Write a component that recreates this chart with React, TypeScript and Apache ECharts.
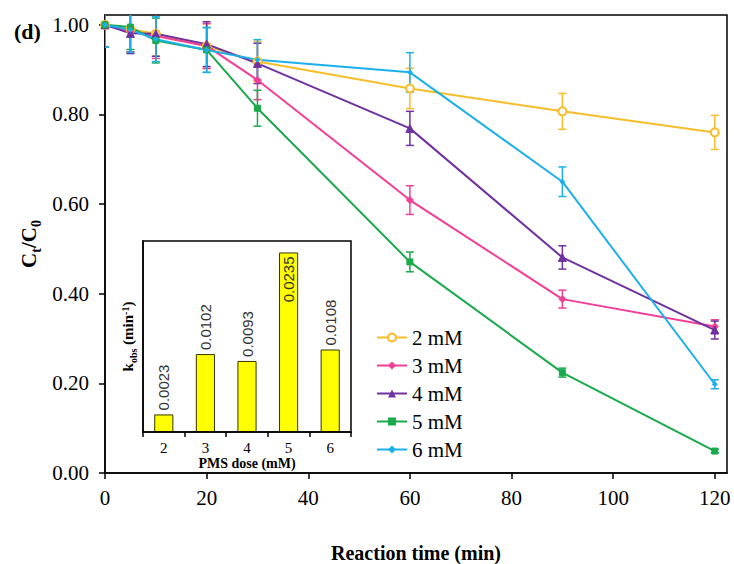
import React, { useEffect, useRef } from "react";
import * as echarts from "echarts";

const times = [0, 5, 10, 20, 30, 60, 90, 120];
const seriesNames = ["2 mM", "3 mM", "4 mM", "5 mM", "6 mM"];
const c2 = [1.0, 0.99, 0.98, 0.952, 0.918, 0.858, 0.807, 0.76];
const c3 = [1.0, 0.985, 0.975, 0.953, 0.877, 0.609, 0.388, 0.327];
const c4 = [1.0, 0.981, 0.98, 0.957, 0.914, 0.769, 0.481, 0.319];
const c5 = [1.0, 0.995, 0.965, 0.944, 0.814, 0.471, 0.224, 0.049];
const c6 = [1.0, 0.989, 0.968, 0.944, 0.922, 0.894, 0.65, 0.198];
const e2 = [0.05, 0.05, 0.05, 0.05, 0.045, 0.045, 0.04, 0.038];
const e3 = [0.05, 0.045, 0.05, 0.05, 0.044, 0.032, 0.02, 0.015];
const e4 = [0.05, 0.045, 0.05, 0.05, 0.045, 0.038, 0.026, 0.02];
const e5 = [0.05, 0.05, 0.05, 0.05, 0.04, 0.022, 0.01, 0.004];
const e6 = [0.05, 0.05, 0.05, 0.05, 0.045, 0.044, 0.033, 0.01];
const xTicks = [0, 20, 40, 60, 80, 100, 120];
const yTicks = [0, 0.2, 0.4, 0.6, 0.8, 1.0];

const doseCats = ["2", "3", "4", "5", "6"];
const kobs = [0.0023, 0.0102, 0.0093, 0.0235, 0.0108];

const SERIF = "Liberation Serif";
const SANS = "Liberation Sans";

const colors = ["#F7BD2A", "#F23E97", "#6F32A0", "#1AAA4C", "#1CB0EA"];
const symbols = ["emptyCircle", "diamond", "triangle", "rect", "diamond"];
const symbolSizes = [8, 7, 8, 6, 5];
const values = [c2, c3, c4, c5, c6];
const errs = [e2, e3, e4, e5, e6];

export default function App() {
  const ref = useRef<HTMLDivElement>(null);
  useEffect(() => {
    document.body.style.margin = "0";
    if (!ref.current) return;
    const chart = echarts.init(ref.current, undefined, { renderer: "svg" });

    const lineSeries: any[] = seriesNames.map((name, i) => ({
      name,
      type: "line",
      xAxisIndex: 0,
      yAxisIndex: 0,
      data: times.map((t, j) => [t, values[i][j]]),
      symbol: symbols[i],
      symbolSize: symbolSizes[i],
      showSymbol: true,
      lineStyle: { color: colors[i], width: 2 },
      itemStyle: { color: colors[i], borderColor: colors[i] },
      z: 3,
      clip: true,
    }));

    const errSeries: any[] = seriesNames.map((name, i) => ({
      name: name + " err",
      type: "custom",
      xAxisIndex: 0,
      yAxisIndex: 0,
      clip: true,
      z: 2,
      encode: { x: 0, y: 1 },
      data: times.map((t, j) => [t, values[i][j], errs[i][j]]),
      renderItem: (params: any, api: any) => {
        const x = api.value(0);
        const y = api.value(1);
        const e = api.value(2);
        const top = api.coord([x, y + e]);
        const bot = api.coord([x, y - e]);
        const hw = 4;
        const style = { stroke: colors[i], lineWidth: 1.5 };
        return {
          type: "group",
          children: [
            { type: "line", shape: { x1: top[0], y1: top[1], x2: bot[0], y2: bot[1] }, style },
            { type: "line", shape: { x1: top[0] - hw, y1: top[1], x2: top[0] + hw, y2: top[1] }, style },
            { type: "line", shape: { x1: bot[0] - hw, y1: bot[1], x2: bot[0] + hw, y2: bot[1] }, style },
          ],
        };
      },
    }));

    const barSeries: any = {
      name: "kobs",
      type: "bar",
      xAxisIndex: 1,
      yAxisIndex: 1,
      barWidth: "46%",
      itemStyle: { color: "#FFFF00", borderColor: "#333300", borderWidth: 1 },
      z: 5,
      data: kobs.map((v, i) => {
        const inside = i === 3;
        return {
          value: v,
          label: {
            show: true,
            position: inside ? "insideTop" : "top",
            rotate: 90,
            align: inside ? "right" : "left",
            verticalAlign: "middle",
            distance: 4,
            formatter: v.toFixed(4),
            fontFamily: SANS,
            fontSize: 15,
            color: "#333",
          },
        };
      }),
    };

    const option: any = {
      animation: false,
      backgroundColor: "#fff",
      title: {
        text: "(d)",
        left: 9,
        top: 15,
        textStyle: { fontFamily: SERIF, fontSize: 22, fontWeight: "bold", color: "#000" },
      },
      legend: {
        data: seriesNames,
        orient: "vertical",
        left: 376,
        top: 327,
        padding: 0,
        itemWidth: 30,
        itemHeight: 10,
        itemGap: 7,
        textStyle: { fontFamily: SERIF, fontSize: 21, color: "#000" },
      },
      grid: [
        {
          left: 105,
          right: 7,
          top: 15,
          bottom: 91,
          show: true,
          borderColor: "#000",
          borderWidth: 1.5,
          backgroundColor: "transparent",
          outerBoundsMode: "none",
          containLabel: false,
        },
        {
          left: 143,
          top: 241,
          width: 208,
          height: 191,
          show: true,
          borderColor: "#000",
          borderWidth: 1.5,
          backgroundColor: "#fff",
          outerBoundsMode: "none",
          containLabel: false,
          z: 4,
        },
      ],
      xAxis: [
        {
          type: "value",
          gridIndex: 0,
          min: 0,
          max: 122.4,
          splitLine: { show: false },
          axisLine: { show: true, lineStyle: { color: "#000", width: 1.5 } },
          axisTick: { show: true, length: 6, customValues: xTicks, lineStyle: { color: "#000", width: 1.5 } },
          axisLabel: {
            customValues: xTicks,
            margin: 14,
            fontFamily: SERIF,
            fontSize: 21,
            color: "#000",
            formatter: (v: number) => String(v),
          },
          name: "Reaction time (min)",
          nameLocation: "middle",
          nameGap: 70,
          nameMoveOverlap: false,
          nameTextStyle: { fontFamily: SERIF, fontSize: 20, fontWeight: "bold", color: "#000" },
        },
        {
          type: "category",
          gridIndex: 1,
          data: doseCats,
          boundaryGap: true,
          axisLine: { show: true, lineStyle: { color: "#000", width: 1.5 } },
          axisTick: { show: true, length: 5, alignWithLabel: false, lineStyle: { color: "#000", width: 1.5 } },
          axisLabel: { margin: 8, fontFamily: SERIF, fontSize: 15, color: "#000" },
          name: "PMS dose (mM)",
          nameLocation: "middle",
          nameGap: 24,
          nameMoveOverlap: false,
          nameTextStyle: {
            fontFamily: SERIF,
            fontSize: 14,
            fontWeight: "bold",
            color: "#000",
            verticalAlign: "top",
          },
          z: 6,
        },
      ],
      yAxis: [
        {
          type: "value",
          gridIndex: 0,
          min: 0,
          max: 1.022,
          splitLine: { show: false },
          axisLine: { show: true, lineStyle: { color: "#000", width: 1.5 } },
          axisTick: { show: true, length: 6, customValues: yTicks, lineStyle: { color: "#000", width: 1.5 } },
          axisLabel: {
            customValues: yTicks,
            margin: 16,
            fontFamily: SERIF,
            fontSize: 21,
            color: "#000",
            formatter: (v: number) => v.toFixed(2),
          },
          name: "C{sub|t}/C{sub|0}",
          nameLocation: "middle",
          nameRotate: 90,
          nameGap: 66,
          nameMoveOverlap: false,
          nameTextStyle: {
            fontFamily: SERIF,
            fontSize: 21,
            fontWeight: "bold",
            color: "#000",
            rich: {
              sub: {
                fontFamily: SERIF,
                fontSize: 14,
                fontWeight: "bold",
                color: "#000",
                verticalAlign: "bottom",
                padding: [0, 0, -4, 0],
              },
            },
          },
        },
        {
          type: "value",
          gridIndex: 1,
          min: 0,
          max: 0.025,
          splitLine: { show: false },
          axisLine: { show: true, lineStyle: { color: "#000", width: 1.5 } },
          axisTick: { show: false },
          axisLabel: { show: false },
          name: "k{sub|obs} (min{sup|-1})",
          nameLocation: "middle",
          nameRotate: 90,
          nameGap: 8,
          nameMoveOverlap: false,
          nameTextStyle: {
            fontFamily: SERIF,
            fontSize: 15,
            fontWeight: "bold",
            color: "#000",
            rich: {
              sub: {
                fontFamily: SERIF,
                fontSize: 10,
                fontWeight: "bold",
                color: "#000",
                verticalAlign: "bottom",
                padding: [0, 0, -3, 0],
              },
              sup: {
                fontFamily: SERIF,
                fontSize: 10,
                fontWeight: "bold",
                color: "#000",
                verticalAlign: "top",
              },
            },
          },
          z: 6,
        },
      ],
      series: [...errSeries, ...lineSeries, barSeries],
    };

    chart.setOption(option);
    return () => chart.dispose();
  }, []);

  return (
    <div
      ref={ref}
      style={{ width: 734, height: 564, position: "absolute", left: 0, top: 0 }}
    />
  );
}
